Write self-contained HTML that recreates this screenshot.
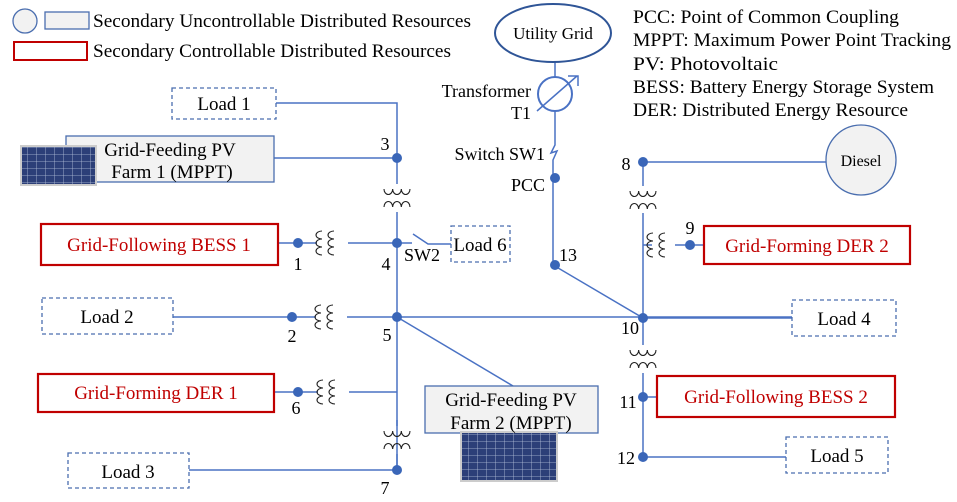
<!DOCTYPE html>
<html><head><meta charset="utf-8"><style>
html,body{margin:0;padding:0;background:#fff;}
svg{display:block;}
text{font-family:"Liberation Serif","Times New Roman",serif;}
</style></head><body>
<svg width="957" height="502" viewBox="0 0 957 502" xmlns="http://www.w3.org/2000/svg" font-family="Liberation Serif, Times New Roman, serif">
<defs>
<g id="cv" fill="none" stroke="#222" stroke-width="1.1">
 <path d="M-13,-9 a4.33,5.5 0 0 0 8.66,0 a4.33,5.5 0 0 0 8.66,0 a4.33,5.5 0 0 0 8.66,0"/>
 <path d="M-13,9 a4.33,5.5 0 0 1 8.66,0 a4.33,5.5 0 0 1 8.66,0 a4.33,5.5 0 0 1 8.66,0"/>
</g>
<g id="ch" fill="none" stroke="#222" stroke-width="1.1">
 <path d="M-5,-12 a6,4 0 0 0 0,8 a6,4 0 0 0 0,8 a6,4 0 0 0 0,8"/>
 <path d="M7,-12 a6,4 0 0 0 0,8 a6,4 0 0 0 0,8 a6,4 0 0 0 0,8"/>
</g>
<pattern id="pv" width="9" height="7" patternUnits="userSpaceOnUse">
 <rect width="9" height="7" fill="#2c3f78"/>
 <path d="M0,0H9M0,0V7" stroke="#b8c4dc" stroke-width="0.8"/>
</pattern>
</defs>

<ellipse cx="25" cy="21" rx="12" ry="12" fill="#f2f2f2" stroke="#4a6eaf" stroke-width="1.3"/>
<rect x="45" y="12" width="44" height="17" fill="#f2f2f2" stroke="#4a6eaf" stroke-width="1.3"/>
<text x="93" y="27" font-size="19" textLength="378" lengthAdjust="spacingAndGlyphs">Secondary Uncontrollable Distributed Resources</text>
<rect x="14" y="42" width="73" height="18" fill="#fff" stroke="#c00000" stroke-width="2"/>
<text x="93" y="57" font-size="19" textLength="358" lengthAdjust="spacingAndGlyphs">Secondary Controllable Distributed Resources</text>

<g font-size="19">
<text x="633" y="23" textLength="266" lengthAdjust="spacingAndGlyphs">PCC: Point of Common Coupling</text>
<text x="633" y="46" textLength="318" lengthAdjust="spacingAndGlyphs">MPPT: Maximum Power Point Tracking</text>
<text x="633" y="70" textLength="145" lengthAdjust="spacingAndGlyphs">PV: Photovoltaic</text>
<text x="633" y="93" textLength="301" lengthAdjust="spacingAndGlyphs">BESS: Battery Energy Storage System</text>
<text x="633" y="116" textLength="275" lengthAdjust="spacingAndGlyphs">DER: Distributed Energy Resource</text>
</g>

<g stroke="#4a72c4" stroke-width="1.5" fill="none">
 <path d="M555,62V77M555,111V145l-4,8 6,-2 -4,9V178V265L643,318"/>
 <path d="M276,103H397V184M397,212V470"/>
 <path d="M274,158H397"/>
 <path d="M278,243H317M348,243H397"/>
 <path d="M397,243H412M413,234L428,244H451"/>
 <path d="M173,317H316M347,317H792"/>
 <path d="M397,317L513,386"/>
 <path d="M274,392H318M349,392H397"/>
 <path d="M397,420V426M397,454V470"/>
 <path d="M189,470H397"/>
 <path d="M643,162H826M643,162V186M643,213V345M643,373V457"/>
 <path d="M643,245H652M675,245H704"/>
 <path d="M643,318H792"/>
 <path d="M643,397H657"/>
 <path d="M643,457H787"/>
</g>
<circle cx="555" cy="94" r="17" fill="#fff" stroke="#4a72c4" stroke-width="2"/>
<path d="M537,111L577,76M568,76H578V86" stroke="#4a72c4" stroke-width="1.5" fill="none"/>
<ellipse cx="553" cy="33" rx="58" ry="29" fill="#fff" stroke="#2f5597" stroke-width="2"/>
<text x="553" y="39" font-size="17" text-anchor="middle">Utility Grid</text>

<use href="#cv" x="397" y="198"/>
<use href="#cv" x="397" y="440"/>
<use href="#cv" x="643" y="200"/>
<use href="#cv" x="643" y="359"/>
<use href="#ch" x="327" y="243"/>
<use href="#ch" x="326" y="317"/>
<use href="#ch" x="328" y="392"/>
<use href="#ch" x="658" y="245"/>

<g fill="#3a66b8">
 <circle cx="397" cy="158" r="5"/><circle cx="397" cy="243" r="5"/><circle cx="397" cy="317" r="5"/><circle cx="397" cy="470" r="5"/>
 <circle cx="298" cy="243" r="5"/><circle cx="292" cy="317" r="5"/><circle cx="298" cy="392" r="5"/>
 <circle cx="555" cy="178" r="5"/><circle cx="555" cy="265" r="5"/>
 <circle cx="643" cy="162" r="5"/><circle cx="690" cy="245" r="5"/><circle cx="643" cy="318" r="5"/><circle cx="643" cy="397" r="5"/><circle cx="643" cy="457" r="5"/>
</g>

<g fill="#fff" stroke="#4a6eaf" stroke-width="1.3" stroke-dasharray="4,3">
 <rect x="172" y="88" width="104" height="31"/>
 <rect x="451" y="226" width="59" height="36"/>
 <rect x="42" y="298" width="131" height="36"/>
 <rect x="68" y="453" width="121" height="35"/>
 <rect x="792" y="300" width="104" height="36"/>
 <rect x="786" y="437" width="102" height="36"/>
</g>
<g fill="#fff" stroke="#c00000" stroke-width="2.2">
 <rect x="41" y="224" width="237" height="41"/>
 <rect x="38" y="374" width="236" height="38"/>
 <rect x="704" y="226" width="206" height="38"/>
 <rect x="657" y="376" width="238" height="41"/>
</g>
<rect x="66" y="136" width="208" height="46" fill="#f2f2f2" stroke="#4a6eaf" stroke-width="1.3"/>
<rect x="425" y="386" width="173" height="47" fill="#f2f2f2" stroke="#4a6eaf" stroke-width="1.3"/>
<rect x="21" y="146" width="75" height="39" fill="url(#pv)" stroke="#ccc" stroke-width="2"/>
<rect x="461" y="432" width="96" height="49" fill="url(#pv)" stroke="#ccc" stroke-width="2"/>
<circle cx="861" cy="160" r="35" fill="#f2f2f2" stroke="#4a6eaf" stroke-width="1.3"/>

<g font-size="19">
 <text x="224" y="110" text-anchor="middle">Load 1</text>
 <text x="480" y="251" text-anchor="middle">Load 6</text>
 <text x="107" y="323" text-anchor="middle">Load 2</text>
 <text x="128" y="478" text-anchor="middle">Load 3</text>
 <text x="844" y="325" text-anchor="middle">Load 4</text>
 <text x="837" y="462" text-anchor="middle">Load 5</text>
 <text x="170" y="156" text-anchor="middle">Grid-Feeding PV</text>
 <text x="172" y="178" text-anchor="middle">Farm 1 (MPPT)</text>
 <text x="511" y="406" text-anchor="middle">Grid-Feeding PV</text>
 <text x="511" y="429" text-anchor="middle">Farm 2 (MPPT)</text>
 <text x="861" y="166" text-anchor="middle" font-size="16">Diesel</text>
</g>
<g font-size="19" fill="#c00000" text-anchor="middle">
 <text x="159" y="251">Grid-Following BESS 1</text>
 <text x="156" y="399">Grid-Forming DER 1</text>
 <text x="807" y="252">Grid-Forming DER 2</text>
 <text x="776" y="403">Grid-Following BESS 2</text>
</g>
<g font-size="18">
 <text x="531" y="97" text-anchor="end">Transformer</text>
 <text x="531" y="119" text-anchor="end">T1</text>
 <text x="545" y="160" text-anchor="end">Switch SW1</text>
 <text x="545" y="191" text-anchor="end">PCC</text>
 <text x="559" y="261">13</text>
 <text x="385" y="150" text-anchor="middle">3</text>
 <text x="298" y="270" text-anchor="middle">1</text>
 <text x="386" y="270" text-anchor="middle">4</text>
 <text x="404" y="261">SW2</text>
 <text x="292" y="342" text-anchor="middle">2</text>
 <text x="387" y="341" text-anchor="middle">5</text>
 <text x="296" y="414" text-anchor="middle">6</text>
 <text x="385" y="494" text-anchor="middle">7</text>
 <text x="626" y="170" text-anchor="middle">8</text>
 <text x="690" y="234" text-anchor="middle">9</text>
 <text x="630" y="334" text-anchor="middle">10</text>
 <text x="628" y="408" text-anchor="middle">11</text>
 <text x="626" y="464" text-anchor="middle">12</text>
</g>
</svg>
</body></html>
